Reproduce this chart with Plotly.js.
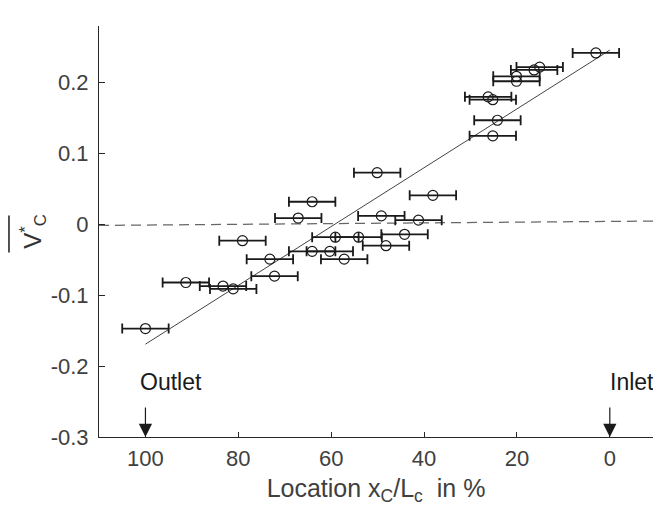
<!DOCTYPE html>
<html>
<head>
<meta charset="utf-8">
<script src="https://cdn.plot.ly/plotly-3.0.1.min.js"></script>
<style>html,body{margin:0;padding:0;background:#fff;}#chart{width:653px;height:506px;}</style>
</head>
<body>
<div id="chart"></div>
<script>
// Measured points: location x_C/L_c (%) and mean V*_C
const locationPct = [3.0, 15.1, 16.3, 20.1, 20.1, 26.2, 25.2, 24.2, 25.2, 50.1, 38.1, 49.2, 41.2, 44.2, 48.2, 64.1, 67.1, 79.1, 59.1, 54.1, 64.1, 60.3, 57.2, 73.2, 72.2, 91.3, 83.3, 81.1, 100.0];
const vcMean = [0.242, 0.222, 0.218, 0.209, 0.202, 0.180, 0.176, 0.147, 0.125, 0.073, 0.041, 0.012, 0.006, -0.014, -0.030, 0.032, 0.009, -0.023, -0.018, -0.018, -0.038, -0.038, -0.049, -0.049, -0.073, -0.082, -0.087, -0.091, -0.147];
const locationErr = 5;
// Linear fit
const fitX = [100, 0];
const fitY = [-0.169, 0.246];
// Dashed reference line
const refX = [110, -9.3];
const refY = [-0.0014, 0.0047];
// Ticks
const xTickVals = [100, 80, 60, 40, 20, 0];
const xTickText = ['100', '80', '60', '40', '20', '0'];
const yTickVals = [-0.3, -0.2, -0.1, 0, 0.1, 0.2];
const yTickText = ['-0.3', '-0.2', '-0.1', '0', '0.1', '0.2'];

const FONT = 'Liberation Sans, Arial, Helvetica, sans-serif';
const AX = '#262626';

const traces = [
  {x: refX, y: refY, type: 'scatter', mode: 'lines', line: {color: '#666666', width: 1.2, dash: '10px,6px'}, hoverinfo: 'skip'},
  {x: fitX, y: fitY, type: 'scatter', mode: 'lines', line: {color: '#444444', width: 1}, hoverinfo: 'skip'},
  {x: locationPct, y: vcMean, type: 'scatter', mode: 'markers',
   marker: {symbol: 'circle-open', size: 10, color: '#1a1a1a', line: {width: 1.2, color: '#1a1a1a'}},
   error_x: {type: 'constant', value: locationErr, thickness: 1.8, width: 5, color: '#1a1a1a'}}
];

const layout = {
  width: 653, height: 506,
  margin: {l: 99, r: 0, t: 26, b: 69},
  paper_bgcolor: '#ffffff', plot_bgcolor: '#ffffff',
  showlegend: false,
  font: {family: FONT, color: '#404040'},
  xaxis: {
    range: [110, -9.3], tickvals: xTickVals, ticktext: xTickText,
    ticks: 'inside', ticklen: 5, tickcolor: AX, tickwidth: 1,
    showline: true, linecolor: AX, linewidth: 1, showgrid: false, zeroline: false,
    ticklabelstandoff: 2,
    tickfont: {family: FONT, size: 22, color: '#404040'},
    title: {text: 'Location x<sub>C</sub>/L<sub>c</sub>  in %', font: {family: FONT, size: 25, color: '#404040'}, standoff: 11}
  },
  yaxis: {
    range: [-0.3, 0.28], tickvals: yTickVals, ticktext: yTickText,
    ticks: 'inside', ticklen: 6, tickcolor: AX, tickwidth: 1,
    showline: true, linecolor: AX, linewidth: 1, showgrid: false, zeroline: false,
    ticklabelstandoff: 5,
    tickfont: {family: FONT, size: 22, color: '#404040'},
    title: {text: 'V<sup>*</sup><sub>C</sub>', font: {family: FONT, size: 24, color: '#333333'}, standoff: 2}
  },
  shapes: [
    {type: 'line', xref: 'paper', yref: 'paper', x0: -0.1625, x1: -0.1625, y0: 0.449, y1: 0.539, line: {color: '#1a1a1a', width: 1.5}}
  ],
  annotations: [
    {x: 100, y: -0.3, xref: 'x', yref: 'y', ax: 0, ay: -38, text: ' ', showarrow: true, arrowhead: 2, arrowsize: 2.2, arrowwidth: 1.2, arrowcolor: '#1a1a1a'},
    {x: 0, y: -0.3, xref: 'x', yref: 'y', ax: 0, ay: -38, text: ' ', showarrow: true, arrowhead: 2, arrowsize: 2.2, arrowwidth: 1.2, arrowcolor: '#1a1a1a'},
    {x: 94.6, y: -0.223, xref: 'x', yref: 'y', text: 'Outlet', showarrow: false, xanchor: 'center', yanchor: 'middle', font: {family: FONT, size: 23, color: '#1a1a1a'}},
    {x: -4.7, y: -0.223, xref: 'x', yref: 'y', text: 'Inlet', showarrow: false, xanchor: 'center', yanchor: 'middle', font: {family: FONT, size: 23, color: '#1a1a1a'}}
  ]
};

Plotly.newPlot('chart', traces, layout, {displayModeBar: false, staticPlot: true});
</script>
</body>
</html>
